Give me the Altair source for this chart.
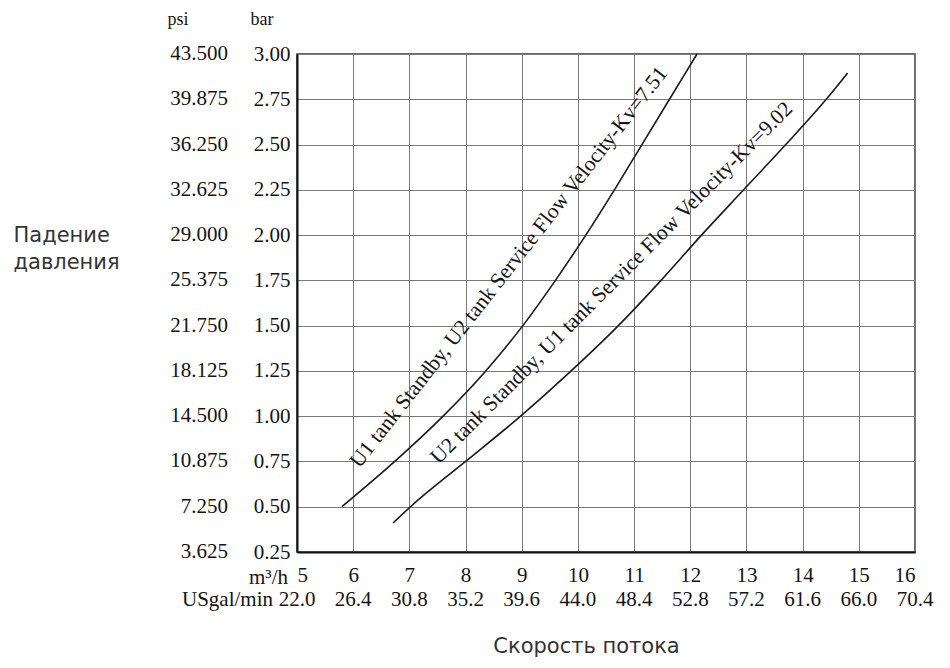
import altair as alt
import pandas as pd

# ---- data ----
m3h_ticks = [5, 6, 7, 8, 9, 10, 11, 12, 13, 14, 15, 16]
usgal_labels = ["22.0", "26.4", "30.8", "35.2", "39.6", "44.0",
                "48.4", "52.8", "57.2", "61.6", "66.0", "70.4"]
bar_ticks = [0.25, 0.50, 0.75, 1.00, 1.25, 1.50, 1.75, 2.00, 2.25, 2.50, 2.75, 3.00]
psi_labels = ["3.625", "7.250", "10.875", "14.500", "18.125", "21.750",
              "25.375", "29.000", "32.625", "36.250", "39.875", "43.500"]

c1_name = "U1 tank Standby, U2 tank Service Flow Velocity-Kv=7.51"
c1_flow = [5.80, 6.74, 7.60, 8.36, 9.02, 9.60, 10.14, 10.65, 11.14, 11.63, 12.12]
c1_dp = [0.50, 0.75, 1.00, 1.25, 1.50, 1.75, 2.00, 2.25, 2.50, 2.75, 3.00]

c2_name = "U2 tank Standby, U1 tank Service Flow Velocity-Kv=9.02"
c2_flow = [6.71, 7.02, 8.00, 8.98, 9.88, 10.72, 11.48, 12.20, 12.95, 13.70, 14.42, 14.80]
c2_dp = [0.41, 0.50, 0.75, 1.00, 1.25, 1.50, 1.75, 2.00, 2.25, 2.50, 2.75, 2.895]

# ---- tables ----
curves = pd.DataFrame({
    "series": [c1_name] * len(c1_flow) + [c2_name] * len(c2_flow),
    "flow": c1_flow + c2_flow,
    "dp": c1_dp + c2_dp,
})
psi_df = pd.DataFrame({"dp": bar_ticks, "label": psi_labels})
gal_df = pd.DataFrame({"flow": m3h_ticks, "label": usgal_labels})
lab1 = pd.DataFrame({"flow": [8.86], "dp": [1.80], "label": [c1_name]})
lab2 = pd.DataFrame({"flow": [10.68], "dp": [1.71], "label": [c2_name]})

SERIF = "Liberation Serif"
SANS = "DejaVu Sans"
INK = "#141414"
LS = 21

xscale = alt.Scale(domain=[5, 16], nice=False, zero=False)
yscale = alt.Scale(domain=[0.25, 3.0], nice=False, zero=False)

x_axis = alt.Axis(
    values=m3h_ticks, grid=True, ticks=False,
    labelFont=SERIF, labelFontSize=LS, labelColor=INK, labelPadding=12,
    title="Скорость потока", titleFont=SANS, titleFontSize=21,
    titleFontWeight="normal", titleColor="#333333",
    titleX=289, titleY=94, titleAlign="center", titleBaseline="middle",
)
y_axis = alt.Axis(
    values=bar_ticks, grid=True, ticks=False,
    labelExpr="format(datum.value, '.2f')",
    labelFont=SERIF, labelFontSize=LS, labelColor=INK, labelPadding=7,
    labelBaseline="middle",
    title=["Падение", "давления"], titleFont=SANS, titleFontSize=21,
    titleFontWeight="normal", titleColor="#333333", titleAngle=0,
    titleX=-284, titleY=181, titleAlign="left", titleBaseline="middle",
    titleLineHeight=27,
)

X = alt.X("flow:Q", scale=xscale, axis=x_axis)
Y = alt.Y("dp:Q", scale=yscale, axis=y_axis)

lines = alt.Chart(curves).mark_line(
    color="#1a1a1a", strokeWidth=1.6, interpolate="monotone"
).encode(x=X, y=Y, detail="series:N")

def curve_label(df, angle):
    return alt.Chart(df).mark_text(
        font=SERIF, fontSize=21.5, color=INK, angle=angle,
        align="center", baseline="alphabetic",
    ).encode(x=X, y=Y, text="label:N")

psi_text = alt.Chart(psi_df).mark_text(
    font=SERIF, fontSize=LS, color=INK, align="right", baseline="middle",
).encode(x=alt.value(-69), y=Y, text="label:N")

gal_text = alt.Chart(gal_df).mark_text(
    font=SERIF, fontSize=LS, color=INK, align="center", baseline="middle",
).encode(x=X, y=alt.value(546), text="label:N")

def fixed_text(txt, x, y, align="center", size=LS):
    return alt.Chart(pd.DataFrame({"t": [txt]})).mark_text(
        font=SERIF, fontSize=size, color=INK, align=align, baseline="middle",
    ).encode(x=alt.value(x), y=alt.value(y), text="t:N")

psi_head = fixed_text("psi", -119, -34, size=18)
bar_head = fixed_text("bar", -35, -34, size=18)
m3h_unit = fixed_text("m³/h", -9, 524, align="right")
gal_unit = fixed_text("USgal/min", -24, 546, align="right")

chart = alt.layer(
    lines, curve_label(lab1, 308), curve_label(lab2, 315),
    psi_text, gal_text, psi_head, bar_head, m3h_unit, gal_unit,
).properties(
    width=618, height=498,
    autosize=alt.AutoSizeParams(type="none"),
    padding={"left": 289, "top": 46, "right": 27, "bottom": 108},
).configure_view(
    stroke="#3a3a3a", strokeWidth=1.5,
).configure_axis(
    gridColor="#7a7a7a", gridWidth=1, gridOpacity=1,
    domainColor="#111111", domainWidth=2,
)

chart.save("out.html", embed_options={"renderer": "svg", "actions": False})
